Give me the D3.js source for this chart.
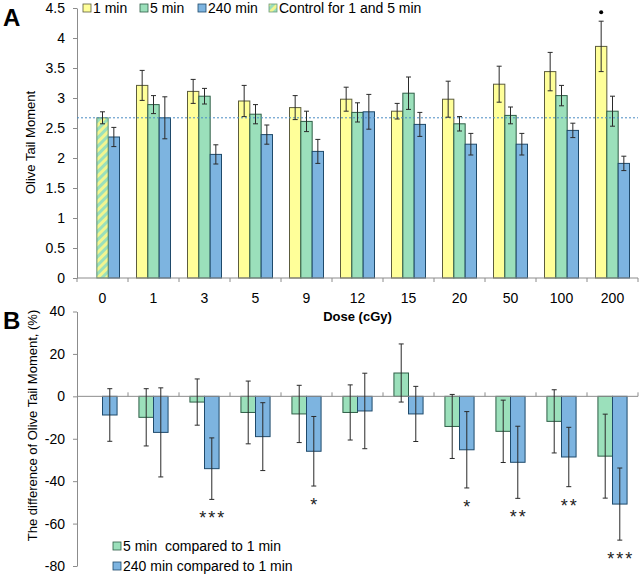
<!DOCTYPE html>
<html>
<head>
<meta charset="utf-8">
<script src="https://cdn.jsdelivr.net/npm/d3@7"></script>
<style>
  body { margin: 0; background: #fff; }
  svg { display: block; font-family: Arial, "Liberation Sans", sans-serif; }
</style>
</head>
<body>
<svg id="chart" width="640" height="575"></svg>
<script>
// ---------- DATA ----------
const doses = ["0", "1", "3", "5", "9", "12", "15", "20", "50", "100", "200"];

// Panel A: Olive Tail Moment
const min1      = [null, 3.21, 3.11, 2.95, 2.84, 2.98, 2.78, 2.98, 3.23, 3.44, 3.86];
const min1Err   = [null, 0.25, 0.20, 0.26, 0.20, 0.20, 0.13, 0.30, 0.30, 0.32, 0.42];
const min5      = [null, 2.89, 3.03, 2.73, 2.61, 2.76, 3.08, 2.57, 2.71, 3.04, 2.78];
const min5Err   = [null, 0.15, 0.13, 0.16, 0.17, 0.16, 0.27, 0.12, 0.14, 0.17, 0.25];
const min240    = [2.35, 2.67, 2.06, 2.39, 2.11, 2.77, 2.56, 2.23, 2.23, 2.46, 1.91];
const min240Err = [0.16, 0.35, 0.16, 0.16, 0.20, 0.29, 0.20, 0.18, 0.18, 0.12, 0.12];
const controlValue = 2.67;
const controlErr = 0.10;
const topTicks = [0, 0.5, 1, 1.5, 2, 2.5, 3, 3.5, 4, 4.5];
const topLegend = ["1 min", "5 min", "240 min", "Control for 1 and 5 min"];

// Panel B: difference (%)
const diff5      = [null, -9.9, -2.7, -7.6, -8.3, -7.6, 11.0, -14.2, -16.5, -11.8, -28.2];
const diff5Err   = [null, 13.5, 10.9, 14.8, 13.5, 13.0, 13.7, 15.1, 14.7, 14.9, 19.8];
const diff240    = [-8.8, -17.0, -34.1, -19.0, -25.9, -6.9, -8.3, -25.2, -31.1, -28.6, -50.8];
const diff240Err = [12.4, 21.0, 14.5, 16.0, 16.4, 17.8, 13.0, 18.0, 17.0, 14.0, 17.0];
const signif     = ["", "", "***", "", "*", "", "", "*", "**", "**", "***"];
const bottomTicks = [-80, -60, -40, -20, 0, 20, 40];
const bottomLegend = ["5 min  compared to 1 min", "240 min compared to 1 min"];

// ---------- STYLE ----------
const C = {
  yellow: "#ffff99", yellowS: "#5c5c3d",
  green: "#9be0bb", greenS: "#2e5e46",
  blue: "#7db4e0", blueS: "#1f4a6b",
  axis: "#8c8c8c", err: "#2a2a2a"
};

const svg = d3.select("#chart");
const defs = svg.append("defs");
const pat = defs.append("pattern")
  .attr("id", "stripe").attr("patternUnits", "userSpaceOnUse")
  .attr("width", 6).attr("height", 6)
  .attr("patternTransform", "rotate(45)");
pat.append("rect").attr("width", 6).attr("height", 6).attr("fill", C.green);
pat.append("rect").attr("width", 3).attr("height", 6).attr("fill", "#f2f590");

// ---------- SCALES ----------
const xLeft = 77, xRight = 638;
const x = d3.scaleBand().domain(doses).range([xLeft, xRight]).padding(0);
const bw = x.bandwidth();
const yTop = d3.scaleLinear().domain([0, 4.5]).range([278, 8]);
const yBot = d3.scaleLinear().domain([-80, 40]).range([566, 311.5]);

// ---------- PANEL A ----------
const gA = svg.append("g");
const barA = bw / 4.5, offA = barA * 0.75;
const seriesA = [
  { vals: min1, errs: min1Err, fill: C.yellow, stroke: C.yellowS, slot: 0 },
  { vals: min5, errs: min5Err, fill: C.green, stroke: C.greenS, slot: 1 },
  { vals: min240, errs: min240Err, fill: C.blue, stroke: C.blueS, slot: 2 }
];
const rowsA = [];
seriesA.forEach(s => doses.forEach((d, i) => {
  if (s.vals[i] != null) rowsA.push({ d, v: s.vals[i], e: s.errs[i], s });
}));
// control bar (in the 5 min slot of dose 0)
rowsA.push({ d: "0", v: controlValue, e: controlErr,
  s: { fill: "url(#stripe)", stroke: "#5f8f6f", slot: 1 } });

// y axis
const axA = gA.append("g").attr("transform", `translate(${xLeft},0)`)
  .call(d3.axisLeft(yTop).tickValues(topTicks).tickFormat(d => String(d)).tickSize(4).tickSizeOuter(0).tickPadding(8));
axA.selectAll("path,line").attr("stroke", C.axis);
axA.selectAll("text").attr("font-size", 14).attr("fill", "#000").attr("font-family", "Arial, 'Liberation Sans', sans-serif");

// bars
gA.selectAll("rect.bar").data(rowsA).join("rect")
  .attr("x", r => x(r.d) + offA + r.s.slot * barA)
  .attr("width", barA)
  .attr("y", r => yTop(r.v))
  .attr("height", r => yTop(0) - yTop(r.v))
  .attr("fill", r => r.s.fill).attr("stroke", r => r.s.stroke).attr("stroke-width", 1);

// control reference line
gA.append("line").attr("x1", xLeft).attr("x2", xRight)
  .attr("y1", yTop(controlValue)).attr("y2", yTop(controlValue))
  .attr("stroke", "#4a8cc4").attr("stroke-width", 1).attr("stroke-dasharray", "2,2");

// error bars
function errBars(g, rows, xf, yScale, cap) {
  const eb = g.selectAll(null).data(rows).join("g").attr("stroke", C.err).attr("stroke-width", 1);
  eb.append("line").attr("x1", xf).attr("x2", xf)
    .attr("y1", r => yScale(r.v + r.e)).attr("y2", r => yScale(r.v - r.e));
  eb.append("line").attr("x1", r => xf(r) - cap).attr("x2", r => xf(r) + cap)
    .attr("y1", r => yScale(r.v + r.e)).attr("y2", r => yScale(r.v + r.e));
  eb.append("line").attr("x1", r => xf(r) - cap).attr("x2", r => xf(r) + cap)
    .attr("y1", r => yScale(r.v - r.e)).attr("y2", r => yScale(r.v - r.e));
}
errBars(gA, rowsA, r => x(r.d) + offA + r.s.slot * barA + barA / 2, yTop, 2.5);

// significance dot for 200 cGy, 1 min
gA.append("circle")
  .attr("cx", x("200") + offA + barA / 2)
  .attr("cy", yTop(min1[10] + min1Err[10]) - 9)
  .attr("r", 2).attr("fill", "#000");

// x axis
gA.append("line").attr("x1", xLeft).attr("x2", xRight).attr("y1", yTop(0)).attr("y2", yTop(0)).attr("stroke", C.axis);
gA.selectAll("line.tk").data(doses.concat(["end"])).join("line")
  .attr("x1", d => d === "end" ? xRight : x(d)).attr("x2", d => d === "end" ? xRight : x(d))
  .attr("y1", yTop(0)).attr("y2", yTop(0) + 4).attr("stroke", C.axis);
const xlab = gA.append("g").attr("transform", `translate(0,${yTop(0)})`)
  .call(d3.axisBottom(x).tickSize(0).tickPadding(15));
xlab.select(".domain").remove();
xlab.selectAll("text").attr("font-size", 14).attr("fill", "#000").attr("font-family", "Arial, 'Liberation Sans', sans-serif");

svg.append("text").attr("x", (xLeft + xRight) / 2).attr("y", 321)
  .attr("text-anchor", "middle").attr("font-size", 13).attr("font-weight", "bold").text("Dose (cGy)");

svg.append("text").attr("transform", "translate(35,142.5) rotate(-90)")
  .attr("text-anchor", "middle").attr("font-size", 13).text("Olive Tail Moment");

svg.append("text").attr("x", 3).attr("y", 26).attr("font-size", 24).attr("font-weight", "bold").text("A");

// top legend
const legFills = [[C.yellow, C.yellowS], [C.green, C.greenS], [C.blue, C.blueS], ["url(#stripe)", "#6a9a7a"]];
const legX = [83, 140, 198, 269];
const lg = svg.append("g");
topLegend.forEach((t, i) => {
  lg.append("rect").attr("x", legX[i]).attr("y", 4).attr("width", 8).attr("height", 8)
    .attr("fill", legFills[i][0]).attr("stroke", legFills[i][1]).attr("stroke-width", 0.8);
  lg.append("text").attr("x", legX[i] + 10).attr("y", 13).attr("font-size", 14).text(t);
});

// ---------- PANEL B ----------
const gB = svg.append("g");
const barB = bw / 3.5, offB = barB * 0.75;
const seriesB = [
  { vals: diff5, errs: diff5Err, fill: C.green, stroke: C.greenS, slot: 0 },
  { vals: diff240, errs: diff240Err, fill: C.blue, stroke: C.blueS, slot: 1 }
];
const rowsB = [];
seriesB.forEach(s => doses.forEach((d, i) => {
  if (s.vals[i] != null) rowsB.push({ d, i, v: s.vals[i], e: s.errs[i], s });
}));

const axB = gB.append("g").attr("transform", `translate(${xLeft},0)`)
  .call(d3.axisLeft(yBot).tickValues(bottomTicks).tickFormat(d => String(d)).tickSize(4).tickSizeOuter(0).tickPadding(8));
axB.selectAll("path,line").attr("stroke", C.axis);
axB.selectAll("text").attr("font-size", 14).attr("fill", "#000").attr("font-family", "Arial, 'Liberation Sans', sans-serif");

gB.selectAll("rect.bar").data(rowsB).join("rect")
  .attr("x", r => x(r.d) + offB + r.s.slot * barB)
  .attr("width", barB)
  .attr("y", r => yBot(Math.max(0, r.v)))
  .attr("height", r => Math.abs(yBot(r.v) - yBot(0)))
  .attr("fill", r => r.s.fill).attr("stroke", r => r.s.stroke).attr("stroke-width", 1);

// zero line with upward ticks
gB.append("line").attr("x1", xLeft).attr("x2", xRight).attr("y1", yBot(0)).attr("y2", yBot(0)).attr("stroke", C.axis);
gB.selectAll("line.tk").data(doses.slice(1).concat(["end"])).join("line")
  .attr("x1", d => d === "end" ? xRight : x(d)).attr("x2", d => d === "end" ? xRight : x(d))
  .attr("y1", yBot(0)).attr("y2", yBot(0) - 4).attr("stroke", C.axis);

errBars(gB, rowsB, r => x(r.d) + offB + r.s.slot * barB + barB / 2, yBot, 2.5);

// significance asterisks below 240 min error bars
gB.selectAll("text.sig").data(rowsB.filter(r => r.s.slot === 1 && signif[r.i])).join("text")
  .attr("x", r => x(r.d) + offB + barB * 1.5 + 1)
  .attr("y", r => yBot(r.v - r.e) + 16 + 9)
  .attr("text-anchor", "middle").attr("font-size", 18).attr("letter-spacing", 2)
  .attr("fill", "#222").text(r => signif[r.i]);

svg.append("text").attr("transform", "translate(37,425.5) rotate(-90)")
  .attr("text-anchor", "middle").attr("font-size", 13).text("The difference of Olive Tail Moment, (%)");

svg.append("text").attr("x", 3).attr("y", 329).attr("font-size", 24).attr("font-weight", "bold").text("B");

// bottom legend
const lgB = svg.append("g");
bottomLegend.forEach((t, i) => {
  const cy = 546 + i * 20;
  lgB.append("rect").attr("x", 113).attr("y", cy - 4).attr("width", 8).attr("height", 8)
    .attr("fill", i === 0 ? C.green : C.blue).attr("stroke", i === 0 ? C.greenS : C.blueS).attr("stroke-width", 0.8);
  lgB.append("text").attr("x", 123).attr("y", cy + 5).attr("font-size", 14)
    .style("white-space", "pre").text(t);
});
</script>
</body>
</html>
